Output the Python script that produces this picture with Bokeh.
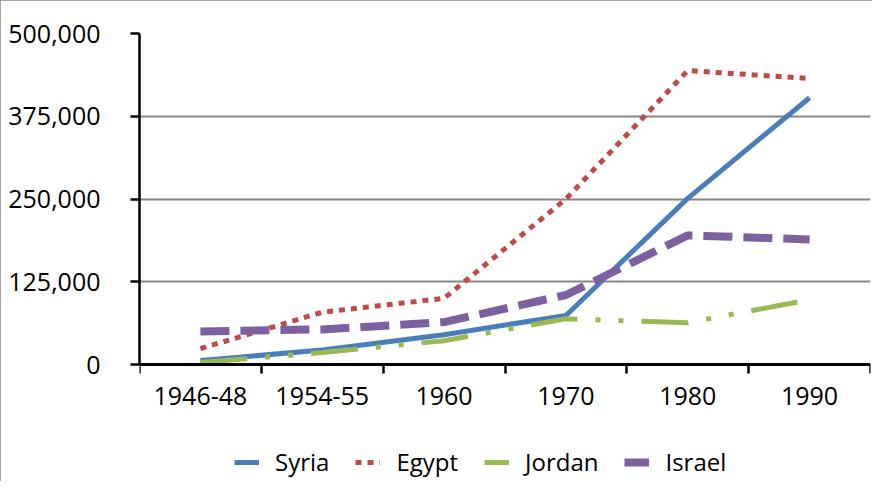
from bokeh.plotting import figure
from bokeh.models import Range1d, FixedTicker, NumeralTickFormatter, Legend, LegendItem
from bokeh.embed import file_html
from bokeh.resources import INLINE

categories = ["1946-48", "1954-55", "1960", "1970", "1980", "1990"]
syria = [6000, 22000, 45000, 74000, 251000, 403000]
egypt = [24000, 79000, 100000, 250000, 444000, 432000]
jordan = [3000, 18000, 36000, 69000, 63000, 98000]
israel = [50000, 53000, 64000, 105000, 195000, 189000]
y_ticks = [0, 125000, 250000, 375000, 500000]

x = list(range(1, len(categories) + 1))
bounds = [i + 0.5 for i in range(len(categories) + 1)]

FONT = "Open Sans"

# layout geometry (pixels): top of value axis, zero line, bottom of canvas
W, H = 872, 481
TOP, ZERO = 33, 364
y_max = y_ticks[-1]
y_min = -(H - ZERO) * y_max / (ZERO - TOP)   # extra room below zero for labels/legend

p = figure(width=W, height=H, output_backend="svg", toolbar_location=None,
           x_range=Range1d(0.5, len(categories) + 0.5), y_range=Range1d(y_min, y_max),
           min_border_left=139, min_border_right=2, min_border_top=TOP, min_border_bottom=0)
p.outline_line_color = None
p.background_fill_color = "white"
p.border_fill_color = "white"
p.styles = {"outline": "1px solid #8c8c8c", "outline-offset": "-1px"}

# x axis (pinned at value 0)
p.xaxis.fixed_location = 0
p.xaxis.ticker = FixedTicker(ticks=x, minor_ticks=bounds)
p.xaxis.major_label_overrides = {i: c for i, c in zip(x, categories)}
p.xaxis.major_tick_line_color = None
p.xaxis.minor_tick_out = 9
p.xaxis.minor_tick_in = 0
p.xaxis.minor_tick_line_color = "black"
p.xaxis.minor_tick_line_width = 2.5
p.xaxis.axis_line_color = "black"
p.xaxis.axis_line_width = 3
p.xaxis.major_label_text_font = FONT
p.xaxis.major_label_text_font_size = "25px"
p.xaxis.major_label_text_color = "black"
p.xaxis.major_label_standoff = 13

# y axis
p.yaxis.bounds = (0, y_max)
p.yaxis.ticker = FixedTicker(ticks=y_ticks)
p.yaxis.formatter = NumeralTickFormatter(format="0,0")
p.yaxis.major_tick_out = 9
p.yaxis.major_tick_in = 0
p.yaxis.major_tick_line_width = 2.5
p.yaxis.major_tick_line_color = "black"
p.yaxis.minor_tick_line_color = None
p.yaxis.axis_line_color = "black"
p.yaxis.axis_line_width = 2.5
p.yaxis.major_label_text_font = FONT
p.yaxis.major_label_text_font_size = "25px"
p.yaxis.major_label_text_color = "black"
p.yaxis.major_label_standoff = 30

p.xgrid.visible = False
p.ygrid.ticker = FixedTicker(ticks=y_ticks)
p.ygrid.grid_line_color = "#868686"
p.ygrid.grid_line_width = 2

r_syria = p.line(x, syria, line_color="#4a7ebb", line_width=5, line_join="round")
r_egypt = p.line(x, egypt, line_color="#be4b48", line_width=5, line_dash="6 6")
r_jordan = p.line(x, jordan, line_color="#98b954", line_width=5, line_dash="47 18 5 18 5 18")
r_israel = p.line(x, israel, line_color="#7d60a0", line_width=8, line_dash="29 11")

legend = Legend(items=[
    LegendItem(label="Syria", renderers=[r_syria]),
    LegendItem(label="Egypt", renderers=[r_egypt]),
    LegendItem(label="Jordan", renderers=[r_jordan]),
    LegendItem(label="Israel", renderers=[r_israel]),
], orientation="horizontal", location=(95, 3), padding=0, margin=0, spacing=26,
    glyph_width=25, glyph_height=20, label_standoff=16,
    label_text_font=FONT, label_text_font_size="24px", label_text_color="black",
    border_line_color=None, background_fill_alpha=0)
p.add_layout(legend)

open("out.html", "w").write(file_html(p, INLINE))
